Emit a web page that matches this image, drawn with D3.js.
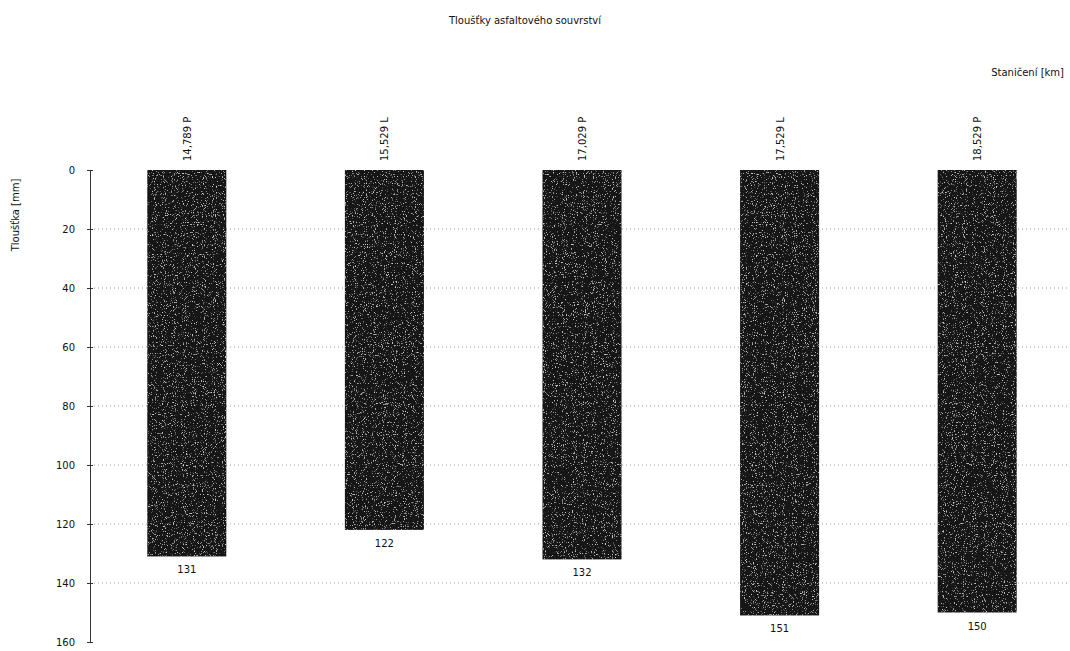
<!DOCTYPE html>
<html>
<head>
<meta charset="utf-8">
<script src="https://cdn.jsdelivr.net/npm/d3@7"></script>
<style>
  body { margin: 0; background: #fff; }
  text { font-family: "DejaVu Sans", Verdana, sans-serif; fill: #111; }
</style>
</head>
<body>
<div id="chart"></div>
<script>
// chainage labels and asphalt thickness [mm]
const stations = ["14,789 P", "15,529 L", "17,029 P", "17,529 L", "18,529 P"];
const thickness = [131, 122, 132, 151, 150];
const yTicks = [0, 20, 40, 60, 80, 100, 120, 140, 160];

const width = 1070, height = 651;
const margin = { top: 170, right: 0, bottom: 9, left: 90 };

const data = stations.map((s, i) => ({ station: s, value: thickness[i] }));

const svg = d3.select("#chart")
    .append("svg")
    .attr("width", width)
    .attr("height", height);

// speckle filter to imitate the scanned bar texture
const defs = svg.append("defs");
const f = defs.append("filter").attr("id", "grain")
    .attr("x", 0).attr("y", 0).attr("width", 1).attr("height", 1);
f.append("feTurbulence").attr("type", "fractalNoise").attr("baseFrequency", 0.9)
    .attr("numOctaves", 2).attr("seed", 4).attr("result", "n");
f.append("feColorMatrix").attr("in", "n").attr("type", "matrix")
    .attr("values", "0 0 0 0 0.6  0 0 0 0 0.6  0 0 0 0 0.6  6 0 0 0 -3.7")
    .attr("result", "specks");
f.append("feComposite").attr("in", "specks").attr("in2", "SourceGraphic")
    .attr("operator", "in").attr("result", "s2");
const merge = f.append("feMerge");
merge.append("feMergeNode").attr("in", "SourceGraphic");
merge.append("feMergeNode").attr("in", "s2");

const xScale = d3.scaleBand()
    .domain(stations)
    .range([margin.left, 1074])
    .paddingInner(0.6)
    .paddingOuter(0.29);

const yScale = d3.scaleLinear()
    .domain([0, 160])
    .range([margin.top, height - margin.bottom]);

// grid lines
svg.append("g")
    .selectAll("line")
    .data(yTicks.slice(1, -1))
    .enter().append("line")
    .attr("x1", margin.left)
    .attr("x2", width)
    .attr("y1", d => yScale(d))
    .attr("y2", d => yScale(d))
    .attr("stroke", "#999")
    .attr("stroke-width", 1)
    .attr("stroke-dasharray", "1,3");

// y axis
const yAxis = svg.append("g")
    .attr("transform", "translate(" + margin.left + ",0)")
    .call(d3.axisLeft(yScale).tickValues(yTicks).tickSizeInner(3).tickSizeOuter(0).tickPadding(12));
yAxis.select(".domain").attr("stroke", "#333");
yAxis.selectAll(".tick line").attr("x2", 3).attr("x1", -3).attr("stroke", "#333");
yAxis.selectAll(".tick text")
    .style("font-family", "DejaVu Sans, sans-serif")
    .style("font-size", "10px")
    .attr("fill", "#111");

// bars
svg.selectAll(".bar")
    .data(data)
    .enter().append("rect")
    .attr("class", "bar")
    .attr("x", d => xScale(d.station))
    .attr("width", xScale.bandwidth())
    .attr("y", yScale(0))
    .attr("height", d => yScale(d.value) - yScale(0))
    .attr("fill", "#151515")
    .attr("filter", "url(#grain)");

// value labels below bars
svg.selectAll(".val")
    .data(data)
    .enter().append("text")
    .attr("class", "val")
    .attr("x", d => xScale(d.station) + xScale.bandwidth() / 2)
    .attr("y", d => yScale(d.value) + 17)
    .attr("text-anchor", "middle")
    .style("font-size", "10px")
    .text(d => d.value);

// station labels, rotated
svg.selectAll(".station")
    .data(data)
    .enter().append("text")
    .attr("class", "station")
    .attr("transform", d => "translate(" + (xScale(d.station) + xScale.bandwidth() / 2 + 4) + "," + (margin.top - 9) + ") rotate(-90)")
    .attr("text-anchor", "start")
    .style("font-size", "10px")
    .text(d => d.station);

// title and axis labels
svg.append("text")
    .attr("x", 525)
    .attr("y", 24)
    .attr("text-anchor", "middle")
    .style("font-size", "10px")
    .text("Tloušťky asfaltového souvrství");

svg.append("text")
    .attr("x", 1064)
    .attr("y", 76)
    .attr("text-anchor", "end")
    .style("font-size", "10px")
    .text("Staničení [km]");

svg.append("text")
    .attr("transform", "translate(19,215) rotate(-90)")
    .attr("text-anchor", "middle")
    .style("font-size", "10px")
    .text("Tloušťka [mm]");
</script>
</body>
</html>
